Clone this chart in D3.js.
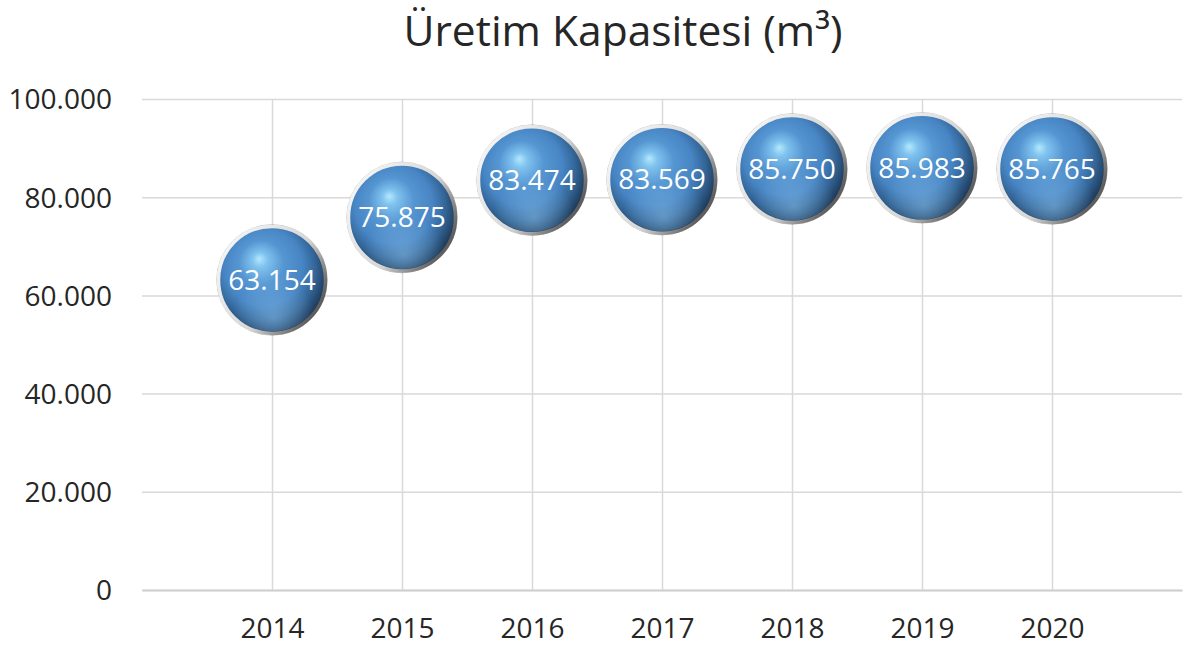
<!DOCTYPE html>
<html>
<head>
<meta charset="utf-8">
<script src="https://cdn.jsdelivr.net/npm/d3@7"></script>
<style>
	body { margin: 0; background: #fff; }
	text { font-family: "Open Sans", sans-serif; }
</style>
</head>
<body>
<div class="chart"></div>
<script>
var years = [2014, 2015, 2016, 2017, 2018, 2019, 2020];
var values = [63154, 75875, 83474, 83569, 85750, 85983, 85765];
var yTicks = [0, 20000, 40000, 60000, 80000, 100000];
var title = "Üretim Kapasitesi (m³)";

var width = 1188, height = 650;
var margin = {top: 99, right: 6, bottom: 60, left: 142};
var fmt = function(d){ return d3.format(",")(d).replace(/,/g, "."); };

var svg = d3.select(".chart").append("svg")
	.attr("width", width)
	.attr("height", height);

var defs = svg.append("defs");

// bubble look: highlight top-left, dark edge bottom-right
var g1 = defs.append("radialGradient").attr("id", "ball")
	.attr("cx", "44%").attr("cy", "42%").attr("r", "60%")
	.attr("fx", "38%").attr("fy", "30%");
g1.append("stop").attr("offset", "0%").attr("stop-color", "#b4e8fc");
g1.append("stop").attr("offset", "12%").attr("stop-color", "#7fc2ee");
g1.append("stop").attr("offset", "35%").attr("stop-color", "#5596d2");
g1.append("stop").attr("offset", "62%").attr("stop-color", "#4784c3");
g1.append("stop").attr("offset", "80%").attr("stop-color", "#336596");
g1.append("stop").attr("offset", "100%").attr("stop-color", "#1a3350");

var g2 = defs.append("radialGradient").attr("id", "glow")
	.attr("cx", "52%").attr("cy", "86%").attr("r", "40%");
g2.append("stop").attr("offset", "0%").attr("stop-color", "#8cc2ec").attr("stop-opacity", 0.5);
g2.append("stop").attr("offset", "100%").attr("stop-color", "#8cc2ec").attr("stop-opacity", 0);

var g3 = defs.append("linearGradient").attr("id", "rim")
	.attr("x1", "10%").attr("y1", "15%").attr("x2", "95%").attr("y2", "70%");
g3.append("stop").attr("offset", "0%").attr("stop-color", "#f4f4f4");
g3.append("stop").attr("offset", "60%").attr("stop-color", "#d6d6d6");
g3.append("stop").attr("offset", "100%").attr("stop-color", "#5e5e5e");

var innerW = width - margin.left - margin.right;
var innerH = 590 - margin.top;

var x = d3.scaleLinear().domain([2013, 2021]).range([0, innerW]);
var y = d3.scaleLinear().domain([0, 100000]).range([innerH, 0]);

svg.append("text")
	.attr("x", 623).attr("y", 46)
	.attr("text-anchor", "middle")
	.style("font-size", "42.5px")
	.style("fill", "#262626")
	.text(title);

var g = svg.append("g").attr("transform", "translate(" + margin.left + "," + margin.top + ")");

// horizontal grid + y labels
var yAxis = d3.axisLeft(y).tickValues(yTicks).tickSize(-innerW).tickSizeOuter(0).tickFormat(fmt).tickPadding(30);
g.append("g").attr("class", "y axis")
	.call(yAxis)
	.call(function(a){
		a.select(".domain").remove();
		a.selectAll("line").attr("stroke", "#d9d9d9").attr("stroke-width", 1.5);
		a.selectAll("text").style("font-size", "28px").style("fill", "#262626").attr("dy", "0.35em");
	});

// vertical grid + x labels
var xAxis = d3.axisBottom(x).tickValues(years).tickSize(-innerH).tickSizeOuter(0).tickFormat(d3.format("d")).tickPadding(28);
g.append("g").attr("class", "x axis")
	.attr("transform", "translate(0," + innerH + ")")
	.call(xAxis)
	.call(function(a){
		a.select(".domain").attr("stroke", "#cfcfcf").attr("stroke-width", 2);
		a.selectAll("line").attr("stroke", "#d9d9d9").attr("stroke-width", 1.5);
		a.selectAll("text").style("font-size", "28px").style("fill", "#262626");
	});

var data = years.map(function(yr, i){ return {year: yr, value: values[i]}; });
var r = 53.5;

var b = g.selectAll(".bubble").data(data).enter().append("g")
	.attr("class", "bubble")
	.attr("transform", function(d){ return "translate(" + x(d.year) + "," + y(d.value) + ")"; });

b.append("circle").attr("r", r + 1.8).attr("fill", "none")
	.attr("stroke", "#4a4a4a").attr("stroke-opacity", 0.3).attr("stroke-width", 1);
b.append("circle").attr("r", r).attr("fill", "url(#ball)")
	.attr("stroke", "url(#rim)").attr("stroke-width", 3.5);
b.append("circle").attr("r", r - 2).attr("fill", "url(#glow)");

b.append("text")
	.attr("text-anchor", "middle")
	.attr("dy", "0.35em")
	.style("font-size", "28px")
	.style("fill", "#ffffff")
	.text(function(d){ return fmt(d.value); });
</script>
</body>
</html>
